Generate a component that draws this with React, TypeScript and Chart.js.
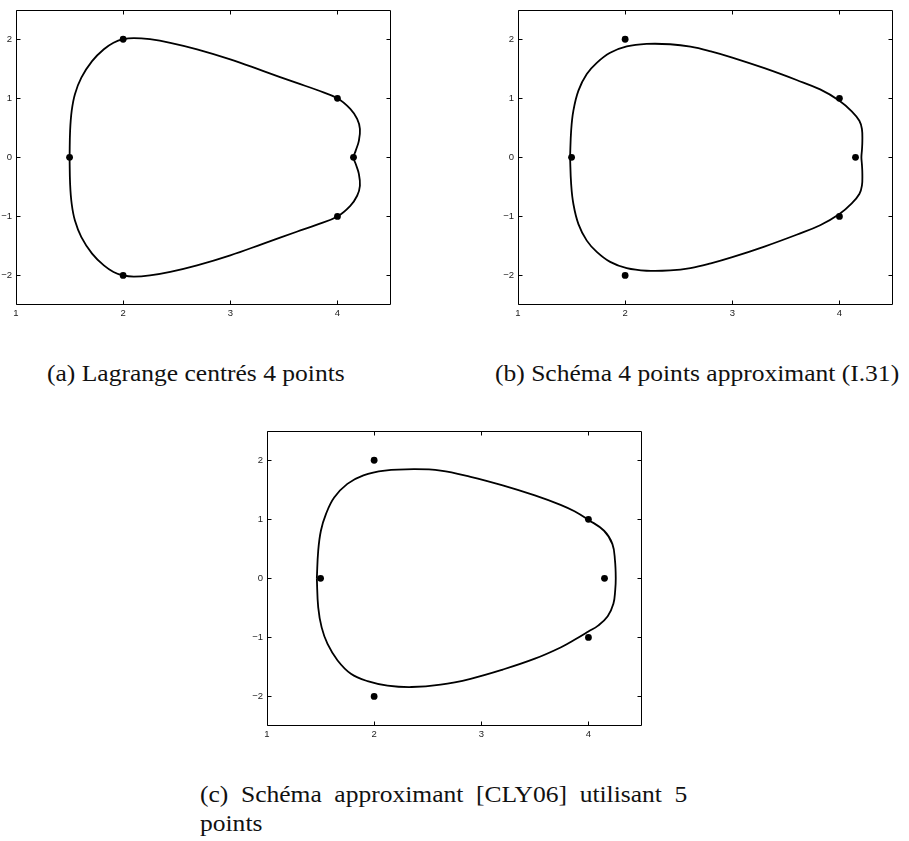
import React, { useEffect, useRef } from "react";
import { Chart, registerables } from "chart.js";

Chart.register(...registerables);

// Control polygon shared by the three panels
const controlX = [1.5, 2, 4, 4.15, 4, 2];
const controlY = [0, 2, 1, 0, -1, -2];

// (a) limit curve of the centred 4-point Lagrange scheme
const curveAX = [1.5, 1.505, 1.52, 1.55, 1.61, 1.71, 1.82, 1.91, 2.0, 2.1, 2.25, 2.44, 2.69, 3.0, 3.31, 3.62, 3.81, 4.0, 4.12, 4.184, 4.21, 4.2, 4.17, 4.15, 4.17, 4.2, 4.21, 4.184, 4.12, 4.0, 3.81, 3.62, 3.31, 3.0, 2.69, 2.44, 2.25, 2.1, 2.0, 1.91, 1.82, 1.71, 1.61, 1.55, 1.52, 1.505, 1.5];
const curveAY = [0, 0.45, 0.79, 1.07, 1.35, 1.63, 1.83, 1.94, 2.0, 2.02, 2.0, 1.94, 1.83, 1.66, 1.46, 1.26, 1.14, 1.0, 0.82, 0.65, 0.48, 0.28, 0.11, 0, -0.11, -0.28, -0.48, -0.65, -0.82, -1.0, -1.14, -1.26, -1.46, -1.66, -1.83, -1.94, -2.0, -2.02, -2.0, -1.94, -1.83, -1.63, -1.35, -1.07, -0.79, -0.45, 0];

// (b) approximating 4-point scheme (I.31)
const curveBX = [1.486, 1.496, 1.517, 1.564, 1.642, 1.735, 1.86, 2.015, 2.2, 2.42, 2.61, 2.8, 3.0, 3.3, 3.6, 3.82, 4.0, 4.115, 4.186, 4.21, 4.214, 4.21, 4.205, 4.21, 4.214, 4.21, 4.186, 4.115, 4.0, 3.82, 3.6, 3.3, 3.0, 2.8, 2.61, 2.42, 2.2, 2.015, 1.86, 1.735, 1.642, 1.564, 1.517, 1.496, 1.486];
const curveBY = [0, 0.45, 0.79, 1.13, 1.41, 1.6, 1.77, 1.877, 1.92, 1.915, 1.875, 1.795, 1.69, 1.51, 1.31, 1.15, 0.96, 0.78, 0.62, 0.48, 0.28, 0.12, 0, -0.12, -0.28, -0.48, -0.62, -0.78, -0.96, -1.15, -1.31, -1.51, -1.69, -1.795, -1.875, -1.915, -1.92, -1.877, -1.77, -1.6, -1.41, -1.13, -0.79, -0.45, 0];

// (c) 5-point approximating scheme [CLY06]
const curveCX = [1.465, 1.478, 1.503, 1.55, 1.627, 1.75, 1.9, 2.1, 2.37, 2.62, 2.9, 3.2, 3.5, 3.74, 3.87, 4.0, 4.146, 4.224, 4.248, 4.255, 4.25, 4.233, 4.18, 4.09, 4.0, 3.87, 3.74, 3.5, 3.2, 2.9, 2.62, 2.35, 2.125, 1.938, 1.783, 1.659, 1.565, 1.51, 1.478, 1.465];
const curveCY = [0, 0.468, 0.806, 1.088, 1.368, 1.6, 1.745, 1.823, 1.848, 1.825, 1.72, 1.575, 1.405, 1.245, 1.135, 0.99, 0.806, 0.58, 0.3, 0, -0.2, -0.43, -0.64, -0.8, -0.9, -1.04, -1.17, -1.36, -1.545, -1.7, -1.8, -1.84, -1.815, -1.74, -1.615, -1.39, -1.11, -0.83, -0.49, 0];

// Axes
const xTicks = [1, 2, 3, 4];
const yTicks = [-2, -1, 0, 1, 2];
const xRange = [1, 4.5];
const yRange = [-2.5, 2.5];

// Sub-figure captions
const captionA = "(a) Lagrange centrés 4 points";
const captionB = "(b) Schéma 4 points approximant (I.31)";
const captionC1 = "(c) Schéma approximant [CLY06] utilisant 5";
const captionC2 = "points";

const CANVAS_W = 404;
const CANVAS_H = 324;

const toPoints = (xs: number[], ys: number[]) => xs.map((x, i) => ({ x, y: ys[i] }));
const fmt = (v: number) => (v < 0 ? "\u2212" + Math.abs(v) : String(v));

// Box around the plot area with short inward ticks on all four sides
const framePlugin = {
  id: "frame",
  afterDraw(chart: any) {
    const { ctx, chartArea } = chart;
    const xs = chart.scales.x;
    const ys = chart.scales.y;
    const l = Math.round(chartArea.left) + 0.5;
    const r = Math.round(chartArea.right) - 0.5;
    const t = Math.round(chartArea.top) + 0.5;
    const b = Math.round(chartArea.bottom) - 0.5;
    const len = 4;
    ctx.save();
    ctx.strokeStyle = "#000";
    ctx.lineWidth = 1;
    ctx.beginPath();
    ctx.rect(l, t, r - l, b - t);
    xs.ticks.forEach((tk: any) => {
      const px = Math.round(xs.getPixelForValue(tk.value)) + 0.5;
      ctx.moveTo(px, b);
      ctx.lineTo(px, b - len);
      ctx.moveTo(px, t);
      ctx.lineTo(px, t + len);
    });
    ys.ticks.forEach((tk: any) => {
      const py = Math.round(ys.getPixelForValue(tk.value)) + 0.5;
      ctx.moveTo(l, py);
      ctx.lineTo(l + len, py);
      ctx.moveTo(r, py);
      ctx.lineTo(r - len, py);
    });
    ctx.stroke();
    ctx.restore();
  },
};

const tickFont = { family: "'Liberation Sans', Arial, sans-serif", size: 9.5 };

function Panel({ xs, ys, left, top }: { xs: number[]; ys: number[]; left: number; top: number }) {
  const ref = useRef<HTMLCanvasElement | null>(null);
  useEffect(() => {
    if (!ref.current) return;
    const chart = new Chart(ref.current, {
      type: "scatter",
      data: {
        datasets: [
          {
            data: toPoints(xs, ys),
            showLine: true,
            borderColor: "#000",
            borderWidth: 1.8,
            pointRadius: 0,
            tension: 0.4,
            fill: false,
          } as any,
          {
            data: toPoints(controlX, controlY),
            showLine: false,
            pointRadius: 3.4,
            pointBackgroundColor: "#000",
            pointBorderColor: "#000",
            pointBorderWidth: 0,
          },
        ],
      },
      options: {
        animation: false,
        responsive: false,
        events: [],
        layout: { padding: { top: 9, right: 11, left: 0, bottom: 0 } },
        plugins: { legend: { display: false }, tooltip: { enabled: false } },
        scales: {
          x: {
            type: "linear",
            min: xRange[0],
            max: xRange[1],
            afterBuildTicks: (s: any) => {
              s.ticks = xTicks.map((v) => ({ value: v }));
            },
            afterFit: (s: any) => {
              s.height = 19;
            },
            grid: { display: false, drawTicks: false },
            border: { display: false },
            ticks: {
              autoSkip: false,
              maxRotation: 0,
              padding: 3,
              color: "#222",
              font: tickFont,
              callback: (v: any) => fmt(Number(v)),
            },
          },
          y: {
            type: "linear",
            min: yRange[0],
            max: yRange[1],
            afterBuildTicks: (s: any) => {
              s.ticks = yTicks.map((v) => ({ value: v }));
            },
            afterFit: (s: any) => {
              s.width = 18;
            },
            grid: { display: false, drawTicks: false },
            border: { display: false },
            ticks: {
              autoSkip: false,
              padding: 4,
              color: "#222",
              font: tickFont,
              callback: (v: any) => fmt(Number(v)),
            },
          },
        },
      },
      plugins: [framePlugin],
    });
    return () => chart.destroy();
  }, [xs, ys]);
  return (
    <canvas
      ref={ref}
      width={CANVAS_W}
      height={CANVAS_H}
      style={{ position: "absolute", left, top, width: CANVAS_W, height: CANVAS_H }}
    />
  );
}

const captionStyle: React.CSSProperties = {
  position: "absolute",
  fontFamily: "'Liberation Serif', 'Times New Roman', serif",
  fontSize: 23,
  lineHeight: "29px",
  color: "#111",
  whiteSpace: "nowrap",
  transform: "scaleX(1.11)",
  transformOrigin: "left top",
};

export default function App() {
  return (
    <div style={{ position: "absolute", left: 0, top: 0, width: 909, height: 841, background: "#fff", overflow: "hidden" }}>
      <Panel xs={curveAX} ys={curveAY} left={-2} top={0} />
      <Panel xs={curveBX} ys={curveBY} left={500} top={0} />
      <Panel xs={curveCX} ys={curveCY} left={249} top={421} />
      <div style={{ ...captionStyle, left: 47, top: 359 }}>{captionA}</div>
      <div style={{ ...captionStyle, left: 495, top: 359 }}>{captionB}</div>
      <div
        style={{ ...captionStyle, left: 200, top: 780, width: 439, textAlign: "justify", textAlignLast: "justify" } as React.CSSProperties}
      >
        {captionC1}
      </div>
      <div style={{ ...captionStyle, left: 200, top: 809 }}>{captionC2}</div>
    </div>
  );
}
